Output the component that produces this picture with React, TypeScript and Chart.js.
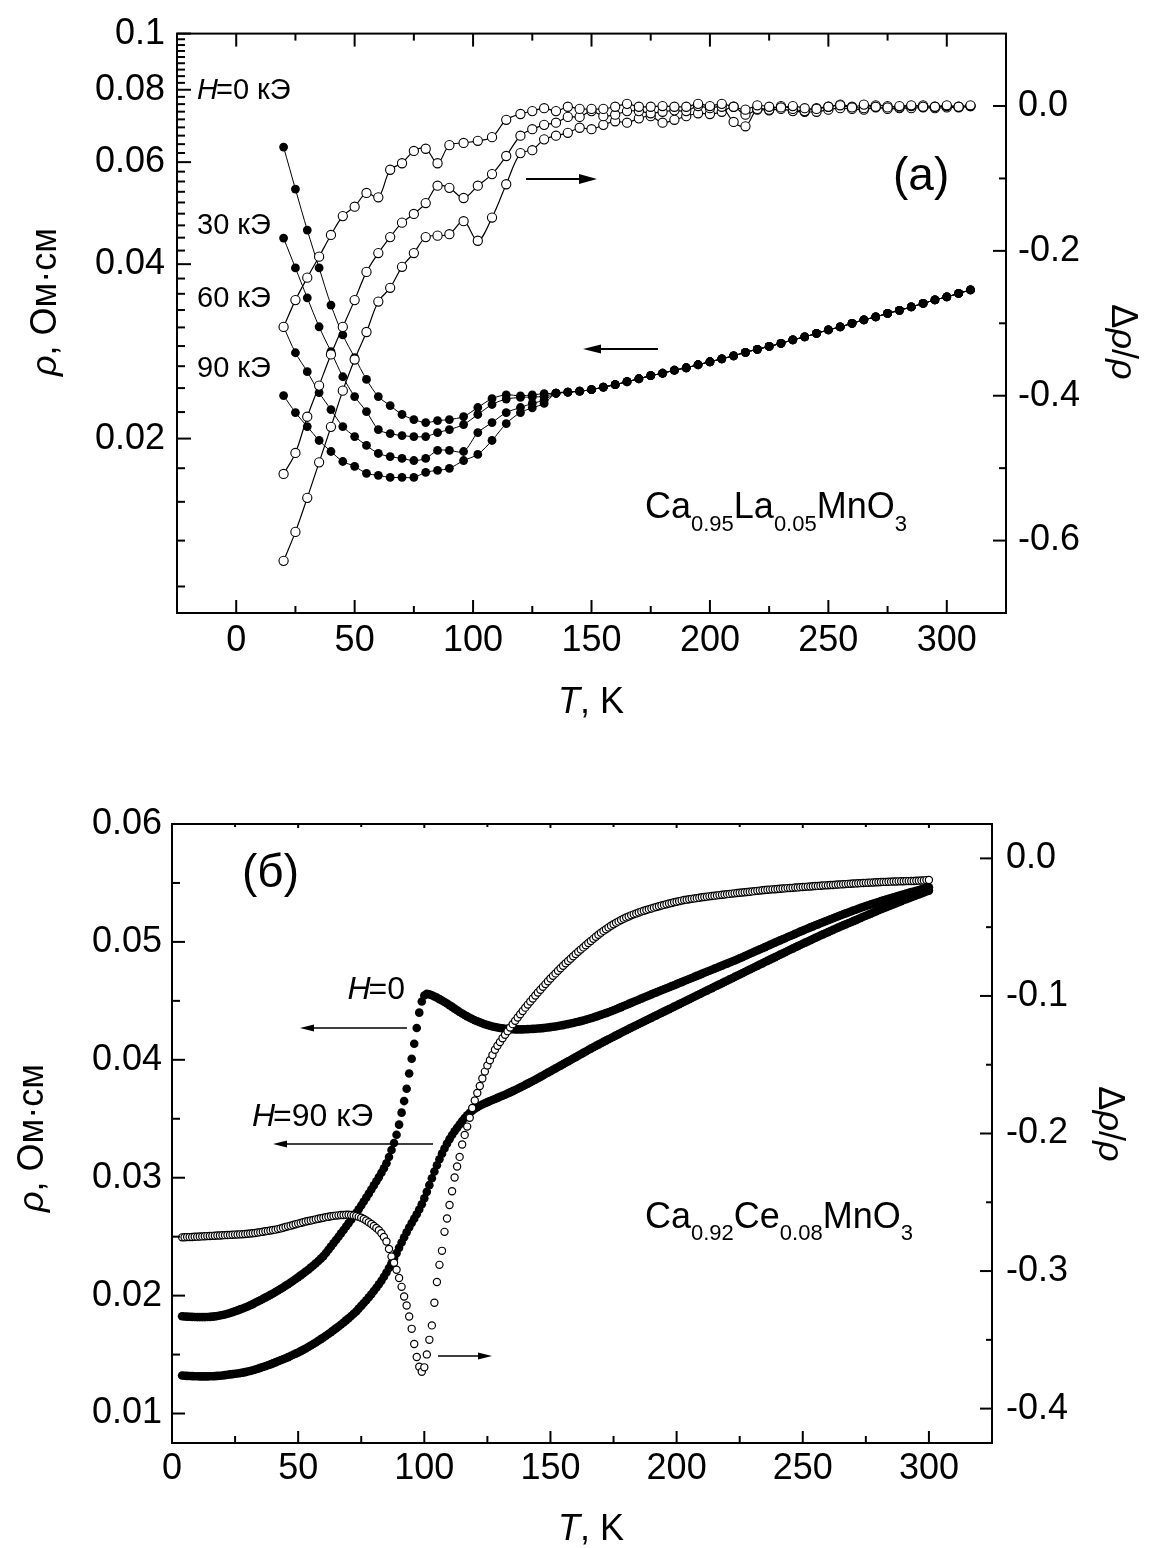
import React, { useEffect, useRef } from "react";
import { Chart, registerables } from "chart.js";

Chart.register(...registerables);

const FONT = "'Liberation Sans', Arial, Helvetica, sans-serif";

// ================= Panel (a): Ca0.95La0.05MnO3 =================
const T_A = [20, 25, 30, 35, 40, 45, 50, 55, 60, 65, 70, 75, 80, 85, 90, 96, 102, 108, 114, 120, 125, 130, 135, 140, 145, 150, 155, 160, 165, 170, 175, 180, 185, 190, 195, 200, 205, 210, 215, 220, 225, 230, 235, 240, 245, 250, 255, 260, 265, 270, 275, 280, 285, 290, 295, 300, 305, 310];

// resistivity, T = 20..130 (22 points) for each field
const RHO_A_H0_LOW = [0.0637, 0.0539, 0.0458, 0.0394, 0.034, 0.0302, 0.0276, 0.0253, 0.02363, 0.0228, 0.02201, 0.02157, 0.02131, 0.02148, 0.02157, 0.02183, 0.02263, 0.02344, 0.0238, 0.0237, 0.0238, 0.02391];
const RHO_A_H30_LOW = [0.04437, 0.0394, 0.03499, 0.03119, 0.02825, 0.02557, 0.02363, 0.02227, 0.02073, 0.0204, 0.02024, 0.02016, 0.02016, 0.02048, 0.02073, 0.02115, 0.02201, 0.0229, 0.0234, 0.02355, 0.0236, 0.02365];
const RHO_A_H60_LOW = [0.03119, 0.02813, 0.02609, 0.02401, 0.02244, 0.02098, 0.02016, 0.01946, 0.01885, 0.01862, 0.01848, 0.01833, 0.01848, 0.01908, 0.01908, 0.019, 0.02048, 0.02131, 0.02218, 0.02263, 0.023, 0.0233];
const RHO_A_H90_LOW = [0.02373, 0.02218, 0.02098, 0.01985, 0.019, 0.01826, 0.01791, 0.01742, 0.01728, 0.01714, 0.01714, 0.01714, 0.01749, 0.01763, 0.01777, 0.01833, 0.01878, 0.01985, 0.02123, 0.02218, 0.0226, 0.023];
// resistivity T = 135..310, where the four field curves coincide
const RHO_A_HIGH = [0.02395, 0.02405, 0.02415, 0.02429, 0.02454, 0.02478, 0.02507, 0.02537, 0.02568, 0.02593, 0.02624, 0.0265, 0.02682, 0.02714, 0.02746, 0.02779, 0.02818, 0.02851, 0.02885, 0.0292, 0.02961, 0.02996, 0.03038, 0.0308, 0.03117, 0.03162, 0.03206, 0.03244, 0.03289, 0.03329, 0.03375, 0.03422, 0.0347, 0.03512, 0.03561, 0.03611];

// magnetoresistance Δρ/ρ, T = 20..310
const DR_A_H30 = [-0.305, -0.268, -0.237, -0.208, -0.178, -0.152, -0.139, -0.12, -0.126, -0.088, -0.079, -0.062, -0.059, -0.079, -0.054, -0.051, -0.048, -0.043, -0.019, -0.011, -0.007, -0.003, -0.007, -0.001, -0.004, -0.004, -0.004, -0.001, 0.003, -0.001, -0.001, 0.0, -0.001, -0.001, 0.003, 0.0, 0.003, -0.001, -0.005, 0.001, -0.001, -0.002, 0.0, -0.003, -0.004, -0.001, 0.001, -0.002, 0.002, -0.001, -0.002, 0.0, 0.001, -0.001, -0.001, 0.001, -0.001, 0.001];
const DR_A_H60 = [-0.508, -0.479, -0.429, -0.386, -0.343, -0.305, -0.268, -0.229, -0.203, -0.181, -0.161, -0.149, -0.134, -0.11, -0.113, -0.127, -0.11, -0.094, -0.069, -0.041, -0.032, -0.026, -0.023, -0.015, -0.015, -0.007, -0.014, -0.012, -0.007, -0.007, -0.01, -0.008, -0.006, -0.007, 0.0, -0.003, -0.001, -0.022, -0.028, -0.004, -0.005, 0.0, -0.004, -0.007, -0.003, -0.001, 0.002, -0.001, -0.003, 0.001, 0.0, -0.002, 0.0, 0.001, -0.001, 0.0, -0.001, 0.0];
const DR_A_H90 = [-0.628, -0.588, -0.541, -0.492, -0.443, -0.393, -0.35, -0.312, -0.27, -0.251, -0.222, -0.203, -0.181, -0.179, -0.177, -0.159, -0.186, -0.154, -0.108, -0.065, -0.061, -0.046, -0.041, -0.037, -0.03, -0.032, -0.026, -0.021, -0.023, -0.017, -0.014, -0.023, -0.019, -0.014, -0.01, -0.011, -0.008, -0.001, -0.012, -0.005, -0.006, -0.004, -0.007, -0.008, -0.008, -0.005, -0.003, -0.004, -0.005, -0.002, -0.004, -0.003, -0.003, -0.002, -0.003, -0.002, -0.002, 0.0];

const A_X_TICKS = [0, 50, 100, 150, 200, 250, 300];
const A_Y_TICKS = [0.02, 0.04, 0.06, 0.08, 0.1];
const A_Y2_TICKS = [-0.6, -0.4, -0.2, 0];

// ================= Panel (б): Ca0.92Ce0.08MnO3 =================
// 1 K sampling, T = 4 .. 300 K
const T_B_FIRST = 4;
const RHO_B_H0 = [
  0.01825, 0.01823, 0.01822, 0.01821, 0.0182, 0.01819, 0.01818, 0.01818, 0.01818, 0.01818,
  0.01819, 0.0182, 0.01822, 0.01824, 0.01827, 0.01831, 0.01835, 0.0184, 0.01846, 0.01853,
  0.0186, 0.01867, 0.01875, 0.01883, 0.01891, 0.01899, 0.01908, 0.01918, 0.01928, 0.01939,
  0.0195, 0.01961, 0.01972, 0.01983, 0.01994, 0.02006, 0.02018, 0.0203, 0.02043, 0.02056,
  0.02069, 0.02083, 0.02097, 0.02111, 0.02126, 0.02141, 0.02156, 0.02172, 0.02188, 0.02204,
  0.0222, 0.02238, 0.02256, 0.02275, 0.02294, 0.02314, 0.02335, 0.02362, 0.02389, 0.02416,
  0.02444, 0.02472, 0.025, 0.02528, 0.02557, 0.02586, 0.02615, 0.02644, 0.02673, 0.02702,
  0.02733, 0.02765, 0.02798, 0.02831, 0.02865, 0.029, 0.02935, 0.0297, 0.03005, 0.03042,
  0.0308, 0.03122, 0.03175, 0.03235, 0.03295, 0.03365, 0.0345, 0.03552, 0.0365, 0.03755,
  0.03884, 0.04009, 0.04136, 0.0427, 0.044, 0.04495, 0.04545, 0.0456, 0.04555, 0.04547,
  0.04537, 0.04527, 0.04515, 0.04503, 0.0449, 0.04477, 0.04463, 0.04449, 0.04434, 0.0442,
  0.04406, 0.04393, 0.0438, 0.04368, 0.04357, 0.04346, 0.04336, 0.04327, 0.04318, 0.0431,
  0.04302, 0.04295, 0.04289, 0.04283, 0.04278, 0.04274, 0.0427, 0.04267, 0.04264, 0.04262,
  0.0426, 0.04259, 0.04258, 0.04258, 0.04258, 0.04258, 0.04259, 0.0426, 0.04261, 0.04262,
  0.04264, 0.04265, 0.04267, 0.04269, 0.04272, 0.04274, 0.04277, 0.0428, 0.04283, 0.04287,
  0.04291, 0.04294, 0.04299, 0.04303, 0.04308, 0.04312, 0.04318, 0.04323, 0.04328, 0.04334,
  0.0434, 0.04346, 0.04353, 0.04359, 0.04366, 0.04373, 0.04381, 0.04388, 0.04396, 0.04404,
  0.04412, 0.0442, 0.04429, 0.04438, 0.04447, 0.04456, 0.04465, 0.04474, 0.04483, 0.04492,
  0.04501, 0.0451, 0.04519, 0.04528, 0.04537, 0.04546, 0.04555, 0.04564, 0.04572, 0.04581,
  0.0459, 0.04599, 0.04607, 0.04616, 0.04625, 0.04633, 0.04642, 0.04651, 0.04659, 0.04668,
  0.04677, 0.04686, 0.04694, 0.04703, 0.04712, 0.0472, 0.04729, 0.04738, 0.04747, 0.04755,
  0.04764, 0.04773, 0.04781, 0.0479, 0.04799, 0.04808, 0.04816, 0.04825, 0.04834, 0.04842,
  0.04851, 0.04861, 0.0487, 0.0488, 0.04889, 0.04899, 0.04908, 0.04918, 0.04927, 0.04937,
  0.04946, 0.04956, 0.04965, 0.04975, 0.04984, 0.04994, 0.05003, 0.05013, 0.05022, 0.05031,
  0.05041, 0.0505, 0.05059, 0.05068, 0.05078, 0.05087, 0.05096, 0.05105, 0.05114, 0.05123,
  0.05132, 0.05141, 0.05149, 0.05158, 0.05167, 0.05175, 0.05184, 0.05192, 0.05201, 0.05209,
  0.05217, 0.05226, 0.05234, 0.05242, 0.0525, 0.05258, 0.05266, 0.05273, 0.05281, 0.05289,
  0.05296, 0.05304, 0.05311, 0.05318, 0.05325, 0.05332, 0.05339, 0.05346, 0.05353, 0.0536,
  0.05366, 0.05373, 0.05379, 0.05385, 0.05392, 0.05398, 0.05404, 0.0541, 0.05416, 0.05422,
  0.05428, 0.05434, 0.0544, 0.05446, 0.05452, 0.05458, 0.05464,
];
const RHO_B_H90 = [
  0.01322, 0.0132, 0.01319, 0.01318, 0.01317, 0.01316, 0.01316, 0.01315, 0.01315, 0.01315,
  0.01315, 0.01316, 0.01316, 0.01317, 0.01319, 0.01321, 0.01323, 0.01326, 0.01329, 0.01332,
  0.01334, 0.01337, 0.0134, 0.01343, 0.01347, 0.01351, 0.01356, 0.01361, 0.01367, 0.01373,
  0.0138, 0.01387, 0.01394, 0.01401, 0.01409, 0.01417, 0.01425, 0.01434, 0.01443, 0.01452,
  0.0146, 0.01469, 0.01478, 0.01488, 0.01498, 0.01508, 0.01518, 0.01529, 0.0154, 0.01552,
  0.01564, 0.01577, 0.0159, 0.01603, 0.01617, 0.01631, 0.01645, 0.0166, 0.01675, 0.0169,
  0.01706, 0.01722, 0.01738, 0.01755, 0.01772, 0.0179, 0.01808, 0.01827, 0.01846, 0.01866,
  0.0189, 0.01913, 0.01937, 0.01961, 0.01986, 0.02012, 0.02039, 0.02067, 0.02096, 0.02126,
  0.0216, 0.02196, 0.02234, 0.02274, 0.02316, 0.0236, 0.02405, 0.0245, 0.02495, 0.02538,
  0.02578, 0.02616, 0.02653, 0.0269, 0.0273, 0.02775, 0.02825, 0.0288, 0.02937, 0.02995,
  0.03052, 0.03106, 0.03157, 0.03204, 0.03248, 0.03289, 0.03327, 0.03362, 0.03394, 0.03423,
  0.03452, 0.0348, 0.03506, 0.0353, 0.03551, 0.03569, 0.03585, 0.03598, 0.0361, 0.03621,
  0.03631, 0.03641, 0.0365, 0.03659, 0.03668, 0.03677, 0.03686, 0.03695, 0.03704, 0.03714,
  0.03724, 0.03734, 0.03744, 0.03754, 0.03765, 0.03776, 0.03787, 0.03798, 0.03809, 0.0382,
  0.03831, 0.03843, 0.03855, 0.03867, 0.03879, 0.03891, 0.03903, 0.03915, 0.03927, 0.03939,
  0.03951, 0.03963, 0.03975, 0.03987, 0.03999, 0.04011, 0.04023, 0.04035, 0.04047, 0.04059,
  0.04071, 0.04083, 0.04095, 0.04106, 0.04118, 0.04129, 0.04141, 0.04152, 0.04163, 0.04174,
  0.04185, 0.04196, 0.04207, 0.04218, 0.04229, 0.0424, 0.04251, 0.04262, 0.04272, 0.04283,
  0.04293, 0.04304, 0.04314, 0.04325, 0.04335, 0.04346, 0.04356, 0.04367, 0.04377, 0.04388,
  0.04398, 0.04409, 0.04419, 0.0443, 0.0444, 0.04451, 0.04461, 0.04472, 0.04482, 0.04493,
  0.04503, 0.04514, 0.04524, 0.04535, 0.04545, 0.04556, 0.04566, 0.04577, 0.04587, 0.04598,
  0.04608, 0.04619, 0.04629, 0.0464, 0.0465, 0.04661, 0.04671, 0.04682, 0.04692, 0.04703,
  0.04713, 0.04724, 0.04734, 0.04745, 0.04755, 0.04766, 0.04776, 0.04787, 0.04797, 0.04808,
  0.04818, 0.04829, 0.04839, 0.0485, 0.0486, 0.04871, 0.04881, 0.04892, 0.04902, 0.04912,
  0.04923, 0.04933, 0.04943, 0.04954, 0.04964, 0.04974, 0.04984, 0.04994, 0.05004, 0.05014,
  0.05024, 0.05034, 0.05044, 0.05054, 0.05064, 0.05073, 0.05083, 0.05093, 0.05102, 0.05112,
  0.05121, 0.05131, 0.0514, 0.05149, 0.05158, 0.05167, 0.05176, 0.05185, 0.05194, 0.05204,
  0.05213, 0.05222, 0.05231, 0.0524, 0.0525, 0.05259, 0.05268, 0.05277, 0.05285, 0.05294,
  0.05303, 0.05311, 0.0532, 0.05329, 0.05337, 0.05346, 0.05355, 0.05363, 0.05371, 0.05379,
  0.05387, 0.05395, 0.05403, 0.05411, 0.05419, 0.05427, 0.05435,
];
const DR_B_H90 = [
  -0.2755, -0.2754, -0.2753, -0.2753, -0.2752, -0.2751, -0.275, -0.2749, -0.2748, -0.2747,
  -0.2746, -0.2745, -0.2744, -0.2743, -0.2742, -0.2741, -0.274, -0.2739, -0.2738, -0.2737,
  -0.2736, -0.2735, -0.2734, -0.2733, -0.2732, -0.2731, -0.2729, -0.2727, -0.2725, -0.2723,
  -0.272, -0.2717, -0.2714, -0.2711, -0.2708, -0.2705, -0.2702, -0.2699, -0.2695, -0.269,
  -0.2685, -0.268, -0.2675, -0.267, -0.2665, -0.266, -0.2655, -0.265, -0.2645, -0.264,
  -0.2636, -0.2632, -0.2628, -0.2624, -0.262, -0.2616, -0.2612, -0.2608, -0.2605, -0.2602,
  -0.2599, -0.2597, -0.2595, -0.2593, -0.2592, -0.2591, -0.2591, -0.2593, -0.2596, -0.26,
  -0.2606, -0.2613, -0.2622, -0.2633, -0.2645, -0.2658, -0.2672, -0.2687, -0.2703, -0.2725,
  -0.2752, -0.2785, -0.284, -0.2895, -0.294, -0.299, -0.305, -0.3115, -0.3185, -0.325,
  -0.333, -0.342, -0.353, -0.3625, -0.3695, -0.3732, -0.37, -0.3606, -0.35, -0.3395,
  -0.323, -0.308, -0.2955, -0.2853, -0.2715, -0.2618, -0.252, -0.242, -0.232, -0.224,
  -0.217, -0.208, -0.201, -0.195, -0.1885, -0.1815, -0.176, -0.1705, -0.1655, -0.16,
  -0.155, -0.1505, -0.1468, -0.143, -0.1391, -0.1362, -0.1335, -0.1308, -0.1282, -0.1256,
  -0.123, -0.1205, -0.1181, -0.1157, -0.1133, -0.1109, -0.1085, -0.1063, -0.1041, -0.1019,
  -0.0997, -0.0975, -0.0955, -0.0934, -0.0914, -0.0893, -0.0873, -0.0854, -0.0836, -0.0817,
  -0.0799, -0.078, -0.0763, -0.0746, -0.0729, -0.0712, -0.0695, -0.0679, -0.0663, -0.0647,
  -0.0631, -0.0615, -0.06, -0.0585, -0.057, -0.0555, -0.054, -0.0527, -0.0515, -0.0502,
  -0.049, -0.0479, -0.0468, -0.0458, -0.0448, -0.0439, -0.043, -0.0422, -0.0414, -0.0407,
  -0.04, -0.0393, -0.0387, -0.0381, -0.0375, -0.0369, -0.0364, -0.0358, -0.0353, -0.0348,
  -0.0343, -0.0338, -0.0333, -0.0328, -0.0324, -0.0319, -0.0315, -0.0311, -0.0307, -0.0303,
  -0.03, -0.0297, -0.0294, -0.0291, -0.0289, -0.0286, -0.0283, -0.0281, -0.0278, -0.0276,
  -0.0273, -0.0271, -0.0269, -0.0267, -0.0264, -0.0262, -0.026, -0.0258, -0.0256, -0.0254,
  -0.0252, -0.025, -0.0248, -0.0246, -0.0244, -0.0242, -0.024, -0.0238, -0.0236, -0.0234,
  -0.0232, -0.023, -0.0228, -0.0227, -0.0225, -0.0224, -0.0222, -0.0221, -0.0219, -0.0218,
  -0.0216, -0.0215, -0.0214, -0.0212, -0.0211, -0.0209, -0.0208, -0.0207, -0.0205, -0.0204,
  -0.0202, -0.0201, -0.02, -0.0199, -0.0197, -0.0196, -0.0195, -0.0194, -0.0193, -0.0191,
  -0.019, -0.0189, -0.0188, -0.0187, -0.0185, -0.0184, -0.0183, -0.0182, -0.0181, -0.018,
  -0.0179, -0.0178, -0.0177, -0.0176, -0.0175, -0.0174, -0.0173, -0.0172, -0.0171, -0.0171,
  -0.017, -0.0169, -0.0168, -0.0168, -0.0167, -0.0166, -0.0166, -0.0165, -0.0165, -0.0164,
  -0.0164, -0.0163, -0.0162, -0.0161, -0.016, -0.0158, -0.0157,
];

const B_X_TICKS = [0, 50, 100, 150, 200, 250, 300];
const B_Y_TICKS = [0.01, 0.02, 0.03, 0.04, 0.05, 0.06];
const B_Y2_TICKS = [-0.4, -0.3, -0.2, -0.1, 0];

// ================= layout =================
const W = 1149;
const TOP_H = 730;
const BOT_TOP = 740;
const BOT_H = 808;

type Part = { t: string; s: number; i?: boolean; dy?: number; k?: number };

function setFont(ctx: any, s: number, i?: boolean) {
  ctx.font = `${i ? "italic " : ""}${s}px ${FONT}`;
}

function drawParts(ctx: any, parts: Part[], x: number, y: number, align: string) {
  let total = 0;
  for (const p of parts) {
    setFont(ctx, p.s, p.i);
    total += ctx.measureText(p.t).width + (p.k || 0);
  }
  let cx = align === "left" ? x : align === "center" ? x - total / 2 : x - total;
  ctx.textAlign = "left";
  ctx.textBaseline = "alphabetic";
  for (const p of parts) {
    setFont(ctx, p.s, p.i);
    ctx.fillText(p.t, cx, y + (p.dy || 0));
    cx += ctx.measureText(p.t).width + (p.k || 0);
  }
}

function rotated(ctx: any, cx: number, cy: number, ang: number, parts: Part[], base: number) {
  ctx.save();
  ctx.translate(cx, cy);
  ctx.rotate(ang);
  drawParts(ctx, parts, 0, base, "center");
  ctx.restore();
}

function tick(ctx: any, a: any, side: string, p: number, len: number) {
  ctx.beginPath();
  if (side === "b") { ctx.moveTo(p, a.bottom); ctx.lineTo(p, a.bottom - len); }
  else if (side === "t") { ctx.moveTo(p, a.top); ctx.lineTo(p, a.top + len); }
  else if (side === "l") { ctx.moveTo(a.left, p); ctx.lineTo(a.left + len, p); }
  else { ctx.moveTo(a.right, p); ctx.lineTo(a.right - len, p); }
  ctx.stroke();
}

function arrow(ctx: any, x1: number, y: number, x2: number, hl: number, hh: number, lw: number) {
  const d = Math.sign(x2 - x1);
  ctx.lineWidth = lw;
  ctx.beginPath();
  ctx.moveTo(x1, y);
  ctx.lineTo(x2 - d * hl * 0.7, y);
  ctx.stroke();
  ctx.beginPath();
  ctx.moveTo(x2, y);
  ctx.lineTo(x2 - d * hl, y - hh);
  ctx.lineTo(x2 - d * hl, y + hh);
  ctx.closePath();
  ctx.fill();
}

function pts(xs: number[], ys: number[]) {
  return ys.map((y, i) => ({ x: xs[i], y }));
}
function ptsB(ys: number[]) {
  return ys.map((y, i) => ({ x: T_B_FIRST + i, y }));
}

const tickFont = { family: FONT, size: 36 };

function axisBase(extra: any) {
  return {
    grid: { display: false, drawTicks: false },
    border: { display: false },
    ...extra,
  };
}

function configA(): any {
  const openDs = (label: string, data: number[]) => ({
    label,
    data: pts(T_A, data),
    yAxisID: "y2",
    showLine: true,
    borderColor: "#000",
    borderWidth: 1.2,
    tension: 0.35,
    pointRadius: 4.6,
    pointHoverRadius: 4.6,
    pointBackgroundColor: "#fff",
    pointBorderColor: "#000",
    pointBorderWidth: 1.1,
  });
  const fillDs = (label: string, low: number[]) => ({
    label,
    data: pts(T_A, [...low, ...RHO_A_HIGH]),
    yAxisID: "y",
    showLine: true,
    borderColor: "#000",
    borderWidth: 1,
    tension: 0.3,
    pointRadius: 4.4,
    pointHoverRadius: 4.4,
    pointBackgroundColor: "#000",
    pointBorderColor: "#000",
    pointBorderWidth: 0,
  });
  const plugin = {
    id: "decorA",
    afterDraw(chart: any) {
      const ctx = chart.ctx;
      const a = chart.chartArea;
      const sx = chart.scales.x, sy = chart.scales.y, sy2 = chart.scales.y2;
      ctx.save();
      ctx.strokeStyle = "#000";
      ctx.fillStyle = "#000";
      ctx.lineWidth = 2;
      ctx.strokeRect(a.left, a.top, a.right - a.left, a.bottom - a.top);
      for (const v of A_X_TICKS) {
        const p = sx.getPixelForValue(v);
        tick(ctx, a, "b", p, 13);
        tick(ctx, a, "t", p, 13);
      }
      for (let v = 25; v < 300; v += 50) {
        const p = sx.getPixelForValue(v);
        tick(ctx, a, "b", p, 7);
        tick(ctx, a, "t", p, 7);
      }
      for (const v of A_Y_TICKS) tick(ctx, a, "l", sy.getPixelForValue(v), 14);
      const st = 0.02 / 9;
      for (let m = 0.02; m < 0.1 - 1e-9; m += 0.02) {
        for (let j = 1; j <= 8; j++) tick(ctx, a, "l", sy.getPixelForValue(m + j * st), 8);
      }
      for (let j = 1; j <= 4; j++) tick(ctx, a, "l", sy.getPixelForValue(0.02 - j * st), 8);
      for (const v of A_Y2_TICKS) tick(ctx, a, "r", sy2.getPixelForValue(v), 13);
      for (const v of [-0.1, -0.3, -0.5]) tick(ctx, a, "r", sy2.getPixelForValue(v), 7);

      // axis titles
      drawParts(ctx, [{ t: "T", s: 36, i: true }, { t: ", K", s: 36 }], 591, 713, "center");
      rotated(ctx, 43, 302, -Math.PI / 2, [{ t: "ρ", s: 36, i: true }, { t: ", Ом·см", s: 36 }], 13);
      rotated(ctx, 1125, 342, Math.PI / 2, [{ t: "Δ", s: 36 }, { t: "ρ", s: 36, i: true }, { t: "/", s: 36 }, { t: "ρ", s: 36, i: true }], 13);

      // annotations
      drawParts(ctx, [{ t: "H", s: 29, i: true, k: -2 }, { t: "=0 кЭ", s: 29 }], 197, 99, "left");
      drawParts(ctx, [{ t: "30 кЭ", s: 29 }], 197, 234, "left");
      drawParts(ctx, [{ t: "60 кЭ", s: 29 }], 197, 307, "left");
      drawParts(ctx, [{ t: "90 кЭ", s: 29 }], 197, 377, "left");
      drawParts(ctx, [{ t: "(a)", s: 46 }], 893, 190, "left");
      drawParts(ctx, [
        { t: "Ca", s: 36 }, { t: "0.95", s: 22, dy: 13 },
        { t: "La", s: 36 }, { t: "0.05", s: 22, dy: 13 },
        { t: "MnO", s: 36 }, { t: "3", s: 22, dy: 13 },
      ], 645, 518, "left");
      arrow(ctx, 526, 179, 597, 18, 5, 2);
      arrow(ctx, 658, 349, 583, 18, 4.5, 2);
      ctx.restore();
    },
  };
  return {
    type: "line",
    data: {
      datasets: [
        openDs("Δρ/ρ 30 кЭ", DR_A_H30),
        openDs("Δρ/ρ 60 кЭ", DR_A_H60),
        openDs("Δρ/ρ 90 кЭ", DR_A_H90),
        fillDs("ρ 0 кЭ", RHO_A_H0_LOW),
        fillDs("ρ 30 кЭ", RHO_A_H30_LOW),
        fillDs("ρ 60 кЭ", RHO_A_H60_LOW),
        fillDs("ρ 90 кЭ", RHO_A_H90_LOW),
      ],
    },
    options: {
      responsive: false,
      maintainAspectRatio: false,
      animation: false,
      devicePixelRatio: 1,
      layout: { padding: { top: 33, left: 0, right: 0, bottom: 0 } },
      plugins: { legend: { display: false }, tooltip: { enabled: false } },
      scales: {
        x: axisBase({
          type: "linear", position: "bottom", min: -25, max: 325,
          ticks: { font: tickFont, color: "#000", padding: 6, autoSkip: false, maxRotation: 0, minRotation: 0, callback: (v: any) => String(v) },
          afterBuildTicks: (s: any) => { s.ticks = A_X_TICKS.map((v) => ({ value: v })); },
          afterFit: (s: any) => { s.height = TOP_H - 613; },
        }),
        y: axisBase({
          type: "logarithmic", position: "left", min: 0.01, max: 0.1,
          ticks: { font: tickFont, color: "#000", padding: 12, autoSkip: false, callback: (v: any) => String(v) },
          afterBuildTicks: (s: any) => { s.ticks = A_Y_TICKS.map((v) => ({ value: v })); },
          afterFit: (s: any) => { s.width = 177; },
        }),
        y2: axisBase({
          type: "linear", position: "right", min: -0.7, max: 0.1,
          ticks: { font: tickFont, color: "#000", padding: 12, autoSkip: false, callback: (v: any) => Number(v).toFixed(1) },
          afterBuildTicks: (s: any) => { s.ticks = A_Y2_TICKS.map((v) => ({ value: v })); },
          afterFit: (s: any) => { s.width = W - 1006; },
        }),
      },
    },
    plugins: [plugin],
  };
}

function configB(): any {
  const off = BOT_TOP;
  const plugin = {
    id: "decorB",
    afterDraw(chart: any) {
      const ctx = chart.ctx;
      const a = chart.chartArea;
      const sx = chart.scales.x, sy = chart.scales.y, sy2 = chart.scales.y2;
      ctx.save();
      ctx.strokeStyle = "#000";
      ctx.fillStyle = "#000";
      ctx.lineWidth = 2;
      ctx.strokeRect(a.left, a.top, a.right - a.left, a.bottom - a.top);
      for (const v of B_X_TICKS) {
        const p = sx.getPixelForValue(v);
        tick(ctx, a, "b", p, 12);
        tick(ctx, a, "t", p, 4);
      }
      for (let v = 25; v < 325; v += 50) {
        const p = sx.getPixelForValue(v);
        tick(ctx, a, "b", p, 7);
        tick(ctx, a, "t", p, 3);
      }
      for (const v of B_Y_TICKS) tick(ctx, a, "l", sy.getPixelForValue(v), 13);
      for (const v of [0.015, 0.025, 0.035, 0.045, 0.055]) tick(ctx, a, "l", sy.getPixelForValue(v), 8);
      for (const v of B_Y2_TICKS) tick(ctx, a, "r", sy2.getPixelForValue(v), 12);
      for (const v of [-0.05, -0.15, -0.25, -0.35]) tick(ctx, a, "r", sy2.getPixelForValue(v), 6);

      drawParts(ctx, [{ t: "T", s: 36, i: true }, { t: ", K", s: 36 }], 591, 1540 - off, "center");
      rotated(ctx, 30, 1138 - off, -Math.PI / 2, [{ t: "ρ", s: 36, i: true }, { t: ", Ом·см", s: 36 }], 13);
      rotated(ctx, 1112, 1124 - off, Math.PI / 2, [{ t: "Δ", s: 36 }, { t: "ρ", s: 36, i: true }, { t: "/", s: 36 }, { t: "ρ", s: 36, i: true }], 13);

      drawParts(ctx, [{ t: "(б)", s: 46 }], 242, 887 - off, "left");
      drawParts(ctx, [{ t: "H", s: 32, i: true, k: -2 }, { t: "=0", s: 32 }], 405, 999 - off, "right");
      drawParts(ctx, [{ t: "H", s: 32, i: true, k: -2 }, { t: "=90 кЭ", s: 32 }], 252, 1126 - off, "left");
      drawParts(ctx, [
        { t: "Ca", s: 36 }, { t: "0.92", s: 22, dy: 12 },
        { t: "Ce", s: 36 }, { t: "0.08", s: 22, dy: 12 },
        { t: "MnO", s: 36 }, { t: "3", s: 22, dy: 12 },
      ], 645, 1228 - off, "left");
      arrow(ctx, 407, 1028 - off, 300, 14, 3.5, 1.5);
      arrow(ctx, 433, 1144 - off, 273, 14, 3.5, 1.5);
      arrow(ctx, 438, 1356 - off, 492, 14, 3.5, 1.5);
      ctx.restore();
    },
  };
  return {
    type: "line",
    data: {
      datasets: [
        {
          label: "Δρ/ρ 90 кЭ",
          data: ptsB(DR_B_H90),
          yAxisID: "y2",
          showLine: false,
          pointRadius: 3.6,
          pointHoverRadius: 3.6,
          pointBackgroundColor: "#fff",
          pointBorderColor: "#000",
          pointBorderWidth: 1.2,
        },
        {
          label: "ρ H=0",
          data: ptsB(RHO_B_H0),
          yAxisID: "y",
          showLine: false,
          pointRadius: 4.3,
          pointHoverRadius: 4.3,
          pointBackgroundColor: "#000",
          pointBorderWidth: 0,
        },
        {
          label: "ρ H=90 кЭ",
          data: ptsB(RHO_B_H90),
          yAxisID: "y",
          showLine: false,
          pointRadius: 4.3,
          pointHoverRadius: 4.3,
          pointBackgroundColor: "#000",
          pointBorderWidth: 0,
        },
      ],
    },
    options: {
      responsive: false,
      maintainAspectRatio: false,
      animation: false,
      devicePixelRatio: 1,
      layout: { padding: { top: 824 - off, left: 0, right: 0, bottom: 0 } },
      plugins: { legend: { display: false }, tooltip: { enabled: false } },
      scales: {
        x: axisBase({
          type: "linear", position: "bottom", min: 0, max: 325,
          ticks: { font: tickFont, color: "#000", padding: 4, autoSkip: false, maxRotation: 0, minRotation: 0, callback: (v: any) => String(v) },
          afterBuildTicks: (s: any) => { s.ticks = B_X_TICKS.map((v) => ({ value: v })); },
          afterFit: (s: any) => { s.height = BOT_H - (1443 - off); },
        }),
        y: axisBase({
          type: "linear", position: "left", min: 0.0075, max: 0.06,
          ticks: { font: tickFont, color: "#000", padding: 10, autoSkip: false, callback: (v: any) => Number(v).toFixed(2) },
          afterBuildTicks: (s: any) => { s.ticks = B_Y_TICKS.map((v) => ({ value: v })); },
          afterFit: (s: any) => { s.width = 172; },
        }),
        y2: axisBase({
          type: "linear", position: "right", min: -0.425, max: 0.025,
          ticks: { font: tickFont, color: "#000", padding: 14, autoSkip: false, callback: (v: any) => Number(v).toFixed(1) },
          afterBuildTicks: (s: any) => { s.ticks = B_Y2_TICKS.map((v) => ({ value: v })); },
          afterFit: (s: any) => { s.width = W - 992; },
        }),
      },
    },
    plugins: [plugin],
  };
}

export default function App() {
  const topRef = useRef<HTMLCanvasElement>(null);
  const botRef = useRef<HTMLCanvasElement>(null);
  useEffect(() => {
    const c1 = new Chart(topRef.current as HTMLCanvasElement, configA());
    const c2 = new Chart(botRef.current as HTMLCanvasElement, configB());
    return () => {
      c1.destroy();
      c2.destroy();
    };
  }, []);
  return (
    <div style={{ position: "absolute", left: 0, top: 0, width: W, height: 1548, background: "#fff" }}>
      <canvas ref={topRef} width={W} height={TOP_H} style={{ position: "absolute", left: 0, top: 0, width: W, height: TOP_H }} />
      <canvas ref={botRef} width={W} height={BOT_H} style={{ position: "absolute", left: 0, top: BOT_TOP, width: W, height: BOT_H }} />
    </div>
  );
}
